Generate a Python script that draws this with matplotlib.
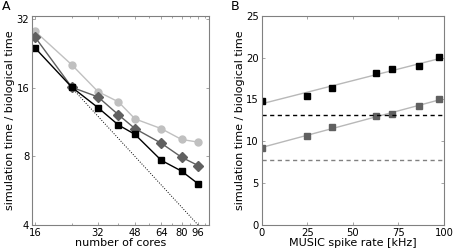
import numpy as np
import matplotlib
matplotlib.use("Agg")
import matplotlib.pyplot as plt
from matplotlib.ticker import FixedLocator, FixedFormatter, NullFormatter

# Panel A: scaling with number of cores (log-log)
cores = [16, 24, 32, 40, 48, 64, 80, 96]
t_circle = [28.4, 20.2, 15.4, 13.9, 11.7, 10.6, 9.5, 9.25]
t_diamond = [26.8, 16.1, 14.6, 12.2, 10.6, 9.15, 7.94, 7.3]
t_square = [24.0, 16.1, 13.1, 11.0, 10.0, 7.7, 6.9, 6.07]
ideal_x = [24, 96]
ideal_ref = 16.0  # time at 24 cores for ideal scaling
a_xticks = [16, 32, 48, 64, 80, 96]
a_yticks = [4, 8, 16, 32]

# Panel B: time vs MUSIC spike rate
rate_black = [0, 25, 38.8, 62.7, 71.3, 86.1, 97.3]
t_black = [14.85, 15.45, 16.36, 18.19, 18.6, 18.95, 20.06]
rate_gray = [0, 25, 38.8, 62.7, 71.3, 86.1, 97.3]
t_gray = [9.24, 10.63, 11.7, 13.06, 13.2, 14.25, 15.0]
base_black = 13.14
base_gray = 7.76
b_xticks = [0, 25, 50, 75, 100]
b_yticks = [0, 5, 10, 15, 20, 25]

plt.rcParams['font.family'] = ['DejaVu Sans']
fig = plt.figure(figsize=(4.54, 2.48), dpi=100)
axA = fig.add_axes([0.0705, 0.0927, 0.3895, 0.844])
axB = fig.add_axes([0.5764, 0.0927, 0.4016, 0.844])

spine_col = '#808080'
for ax in (axA, axB):
    for s in ax.spines.values():
        s.set_color(spine_col)
        s.set_linewidth(0.8)
    ax.tick_params(direction='in', top=True, right=True, labelsize=7.2,
                   length=2, width=0.5, color=spine_col, pad=2)
    ax.tick_params(which='minor', direction='in', top=True, right=True,
                   length=1.5, width=0.5, color=spine_col)

# --- A ---
axA.set_xscale('log', base=2)
axA.set_yscale('log', base=2)
ix = np.array(ideal_x, dtype=float)
axA.plot(ix, ideal_ref * ideal_x[0] / ix, ':', color='k', lw=0.7)
axA.plot(cores, t_circle, '-o', color='#c0c0c0', ms=5, mec='#c0c0c0', lw=1)
axA.plot(cores, t_diamond, '-D', color='#606060', ms=4.8, mec='#606060', lw=1)
axA.plot(cores, t_square, '-s', color='k', ms=5, mec='k', lw=1)
axA.set_xlim(15.5, 108)
axA.set_ylim(4, 33.2)
axA.xaxis.set_major_locator(FixedLocator(a_xticks))
axA.xaxis.set_major_formatter(FixedFormatter([str(v) for v in a_xticks]))
axA.xaxis.set_minor_locator(FixedLocator([24, 40, 56, 72, 88, 104]))
axA.xaxis.set_minor_formatter(NullFormatter())
axA.yaxis.set_major_locator(FixedLocator(a_yticks))
axA.yaxis.set_major_formatter(FixedFormatter([str(v) for v in a_yticks]))
axA.yaxis.set_minor_locator(FixedLocator([]))
axA.set_xlabel('number of cores', fontsize=8, labelpad=0)
axA.set_ylabel('simulation time / biological time', fontsize=8, labelpad=1)

# --- B ---
xs = np.array([0, 98.0])
for r, t, c in [(rate_black, t_black, 'k'), (rate_gray, t_gray, '#606060')]:
    p = np.polyfit(r, t, 1)
    axB.plot(xs, np.polyval(p, xs), '-', color='#b8b8b8', lw=1, zorder=1)
    axB.plot(r, t, 's', color=c, ms=5, mec=c, zorder=2)
axB.axhline(base_black, ls='--', color='k', lw=1, dashes=(3, 2.5))
axB.axhline(base_gray, ls='--', color='#808080', lw=1, dashes=(3, 2.5))
axB.set_xlim(0, 100)
axB.set_ylim(0, 25)
axB.set_xticks(b_xticks)
axB.set_yticks(b_yticks)
axB.set_xlabel('MUSIC spike rate [kHz]', fontsize=8, labelpad=0)
axB.set_ylabel('simulation time / biological time', fontsize=8, labelpad=1)

fig.text(0.005, 0.998, 'A', fontsize=9, va='top', ha='left')
fig.text(0.509, 0.998, 'B', fontsize=9, va='top', ha='left')

fig.savefig('out.png', dpi=100)
